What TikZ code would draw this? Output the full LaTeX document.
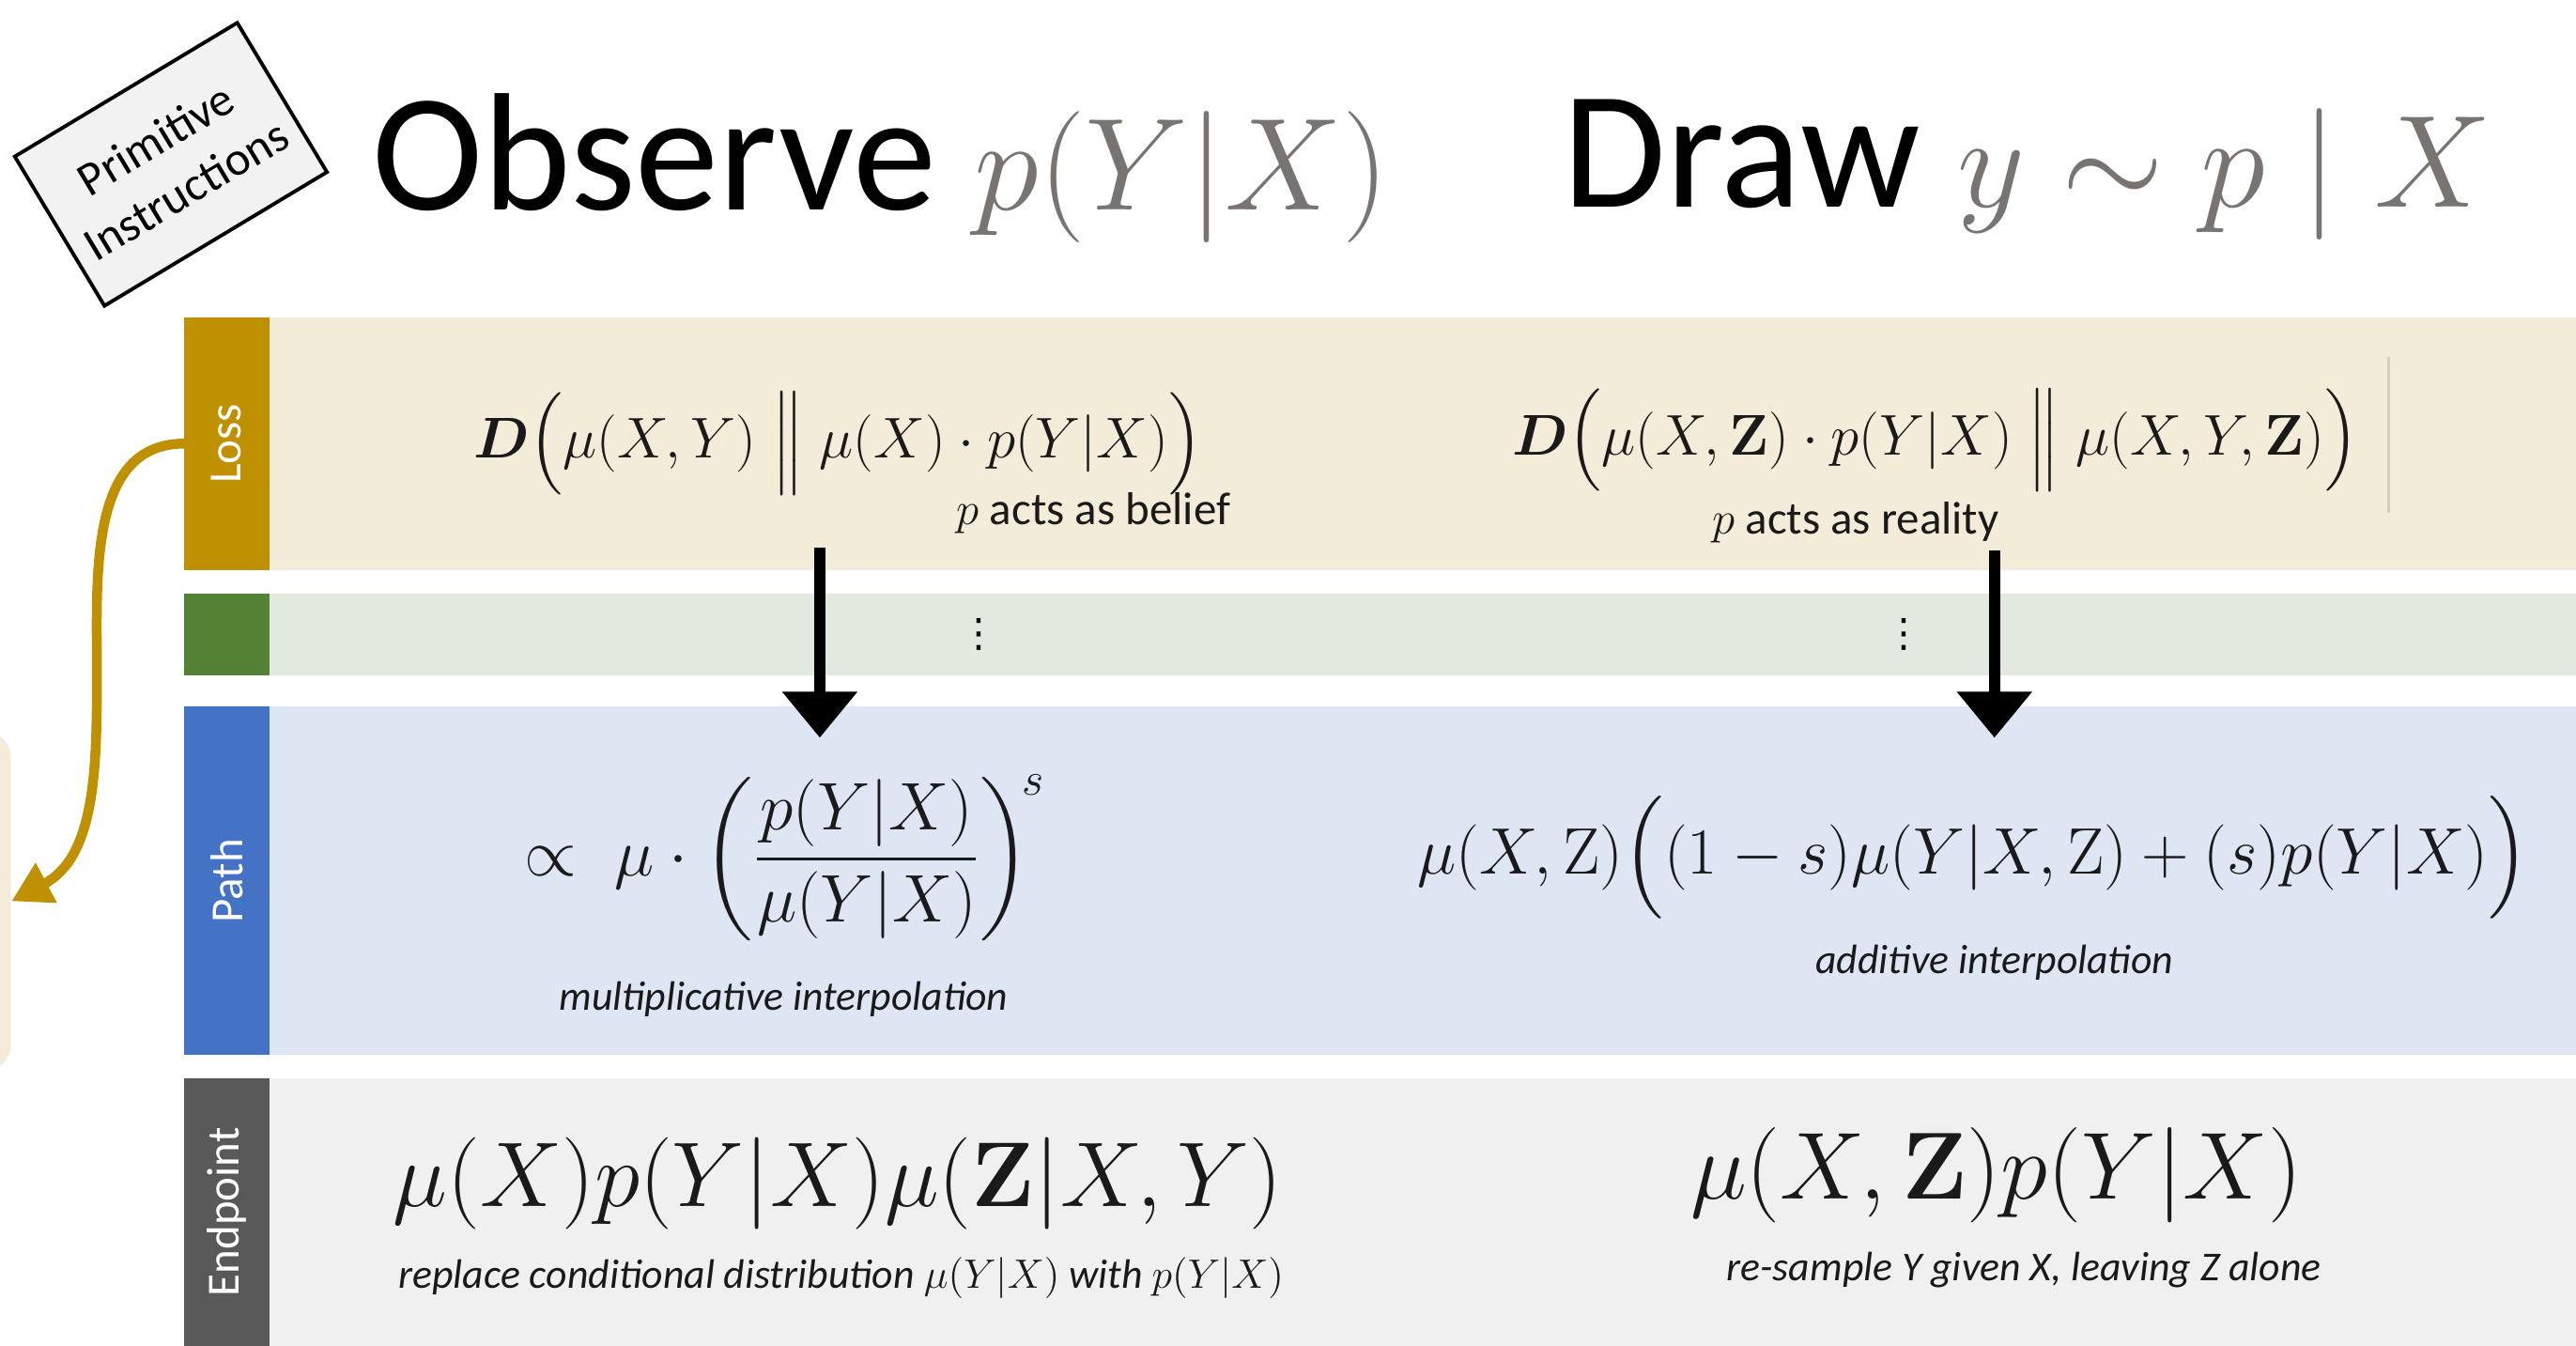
\RequirePackage{fix-cm}
\documentclass[tikz,border=0pt]{standalone}
\usepackage{amsmath}
\usepackage[no-math]{fontspec}
\setmainfont{Carlito}
\newfontfamily\symfont{DejaVu Sans}
\usepackage{tikz}
\usetikzlibrary{positioning,arrows.meta}
\definecolor{lossGold}{HTML}{BF9000}
\definecolor{lossFill}{HTML}{F2ECD8}
\definecolor{gapGreen}{HTML}{548235}
\definecolor{gapFill}{HTML}{E2EADF}
\definecolor{pathBlue}{HTML}{4472C4}
\definecolor{pathFill}{HTML}{DFE6F3}
\definecolor{endGray}{HTML}{595959}
\definecolor{endFill}{HTML}{F0F0F0}
\definecolor{titleGray}{HTML}{787472}
\definecolor{primFill}{HTML}{F2F2F2}
\definecolor{mathInk}{HTML}{1A1A1A}
\definecolor{edgeTone}{HTML}{D6CFBF}

\begin{document}
\begin{tikzpicture}[x=0.5pt, y=0.5pt,
    lblBox/.style={rectangle, inner sep=0pt, outer sep=0pt, minimum width=26pt, text=white, font=\fontsize{14}{16}\selectfont},
    bandBox/.style={rectangle, inner sep=0pt, outer sep=0pt, minimum width=702pt},
    fml/.style={text=mathInk, inner sep=1pt},
    capTxt/.style={text=mathInk, font=\fontsize{12.5}{15}\selectfont\itshape, inner sep=1pt},
    bigTitle/.style={anchor=base west, inner sep=0pt, font=\fontsize{51}{56}\selectfont},
    flow/.style={-{Triangle[width=22pt, length=14pt]}, line width=3.5pt},
    backArrow/.style={-{Triangle[width=13pt, length=12pt]}, line width=3pt, lossGold}
  ]
  \useasboundingbox (0,0) rectangle (1568,819);
  \clip (0,0) rectangle (1568,819);

  \node (prim) [draw, line width=1.1pt, fill=primFill, rotate=31, minimum width=79pt, minimum height=53pt, align=center, font=\fontsize{14.5}{18}\selectfont] at (104,719) {Primitive\\Instructions};

  \node (obsTitle) [bigTitle] at (226,691) {Observe {\fontsize{40}{44}\selectfont\color{titleGray}$p(Y|X)$}};
  \node (drawTitle) [bigTitle] at (951,693) {Draw {\fontsize{40}{44}\selectfont\color{titleGray}$y \sim p \mid X$}};

  \node (lossLbl) [lblBox, fill=lossGold, minimum height=77pt, anchor=south west] at (112,472) {\rotatebox{90}{Loss}};
  \node (gapLbl) [lblBox, fill=gapGreen, minimum height=25pt, below=7pt of lossLbl] {};
  \node (pathLbl) [lblBox, fill=pathBlue, minimum height=106pt, below=9.5pt of gapLbl] {\rotatebox{90}{Path}};
  \node (endLbl) [lblBox, fill=endGray, minimum height=81.5pt, below=7pt of pathLbl] {\rotatebox{90}{Endpoint}};

  \node (lossBand) [bandBox, fill=lossFill, minimum height=77pt, right=0pt of lossLbl] {};
  \node (gapBand) [bandBox, fill=gapFill, minimum height=25pt, right=0pt of gapLbl] {};
  \node (pathBand) [bandBox, fill=pathFill, minimum height=106pt, right=0pt of pathLbl] {};
  \node (endBand) [bandBox, fill=endFill, minimum height=81.5pt, right=0pt of endLbl] {};

  \node (side) [rectangle, fill=lossFill, rounded corners=8pt, minimum width=40pt, minimum height=103.5pt, anchor=east] at (7,270.5) {};
  \draw[backArrow] (lossLbl.west) to[out=180,in=90] (59,409) to[out=-90,in=28] (side.east);

  \draw[edgeTone, line width=1pt] (1454,507) -- (1454,602);

  \node (lossL) [fml, font=\fontsize{17.5}{20}\selectfont] at (510,549) {$\boldsymbol{D}\Big(\mu(X,Y)\;\Big\|\;\mu(X)\cdot p(Y|X)\Big)$};
  \node (lossR) [fml, font=\fontsize{17.5}{20}\selectfont] at (1178,551) {$\boldsymbol{D}\Big(\mu(X,\mathbf{Z})\cdot p(Y|X)\;\Big\|\;\mu(X,Y,\mathbf{Z})\Big)$};
  \node (beliefTxt) [fml, anchor=base west, font=\fontsize{14}{16}\selectfont] at (580,500) {$p$ acts as belief};
  \node (realityTxt) [fml, anchor=base west, font=\fontsize{14}{16}\selectfont] at (1040,494) {$p$ acts as reality};

  \node (dotsL) [font=\fontsize{12}{14}\selectfont\symfont] at (596,433) {⋮};
  \node (dotsR) [font=\fontsize{12}{14}\selectfont\symfont] at (1159,433) {⋮};

  \coordinate (lArrTop) at (499,486);
  \coordinate (lArrTip) at (499,370);
  \coordinate (rArrTop) at (1214,484);
  \coordinate (rArrTip) at (1214,370);
  \draw[flow] (lArrTop) -- (lArrTip);
  \draw[flow] (rArrTop) -- (rArrTip);

  \node (pathL) [fml, font=\fontsize{20.5}{24}\selectfont] at (478,297) {$\propto\;\mu\cdot\left(\dfrac{p(Y|X)}{\mu(Y|X)}\right)^{\!s}$};
  \node (pathR) [fml, font=\fontsize{20}{24}\selectfont] at (1201,297) {$\mu(X,\mathrm{Z})\Big((1-s)\mu(Y|X,\mathrm{Z})+(s)p(Y|X)\Big)$};
  \node (multTxt) [capTxt] at (477,211) {multiplicative interpolation};
  \node (addTxt) [capTxt] at (1214,233) {additive interpolation};

  \node (endL) [fml, font=\fontsize{28}{32}\selectfont] at (510,99) {$\mu(X)p(Y|X)\mu(\mathbf{Z}|X,Y)$};
  \node (endR) [fml, font=\fontsize{29}{33}\selectfont] at (1215,104) {$\mu(X,\mathbf{Z})p(Y|X)$};
  \node (replTxt) [capTxt] at (512,41) {replace conditional distribution $\mu(Y|X)$ with $p(Y|X)$};
  \node (resampTxt) [capTxt] at (1232,46) {re-sample Y given X, leaving Z alone};
\end{tikzpicture}
\end{document}
